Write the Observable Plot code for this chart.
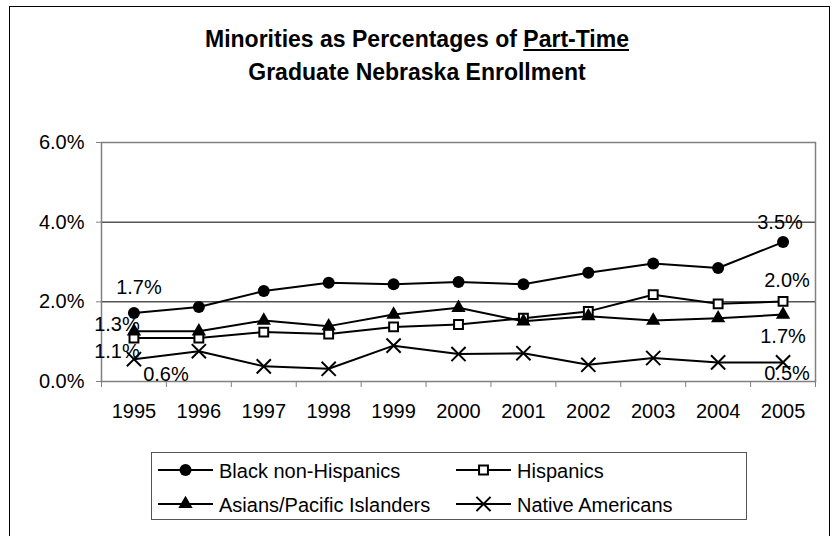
<!DOCTYPE html>
<html><head><meta charset="utf-8">
<script src="https://cdn.jsdelivr.net/npm/d3@7"></script>
<script src="https://cdn.jsdelivr.net/npm/@observablehq/plot@0.6"></script>
<style>
html,body{margin:0;padding:0;background:#fff;overflow:hidden;}
#wrap{position:relative;width:834px;height:536px;font-family:"Liberation Sans",Arial,sans-serif;color:#000;overflow:hidden;}
#border{position:absolute;left:9px;top:6px;width:821px;height:600px;border:1.5px solid #000;box-sizing:border-box;}
#title{position:absolute;left:0;width:834px;top:23px;text-align:center;font-weight:bold;font-size:23px;line-height:33px;}
#chart{position:absolute;left:0;top:0;}
#legend{position:absolute;left:151px;top:452px;}
</style>
</head><body>
<div id="wrap">
  <div id="border"></div>
  <div id="chart"></div>
  <div id="title">Minorities as Percentages of <u>Part-Time</u><br>Graduate Nebraska Enrollment</div>
  <div id="legend"></div>
</div>
<script>
const years = [1995,1996,1997,1998,1999,2000,2001,2002,2003,2004,2005];
const blackNonHispanics = [1.72,1.87,2.27,2.48,2.44,2.50,2.44,2.73,2.96,2.85,3.50];
const hispanics         = [1.09,1.09,1.24,1.19,1.37,1.43,1.59,1.76,2.18,1.95,2.01];
const asiansPacific     = [1.26,1.26,1.53,1.39,1.68,1.85,1.51,1.64,1.53,1.59,1.68];
const nativeAmericans   = [0.56,0.76,0.38,0.32,0.90,0.69,0.71,0.42,0.59,0.48,0.48];
const yTicks = [0,2,4,6];

const seriesNames = ["Black non-Hispanics","Hispanics","Asians/Pacific Islanders","Native Americans"];
const seriesValues = [blackNonHispanics, hispanics, asiansPacific, nativeAmericans];
const seriesStyle = [
  {symbol:"circle", r:6, fill:"#000", stroke:"none", strokeWidth:0},
  {symbol:"square", r:5, fill:"#fff", stroke:"#000", strokeWidth:2},
  {symbol:"triangle", r:5.3, fill:"#000", stroke:"none", strokeWidth:0},
  {symbol:"times", r:6.5, fill:"none", stroke:"#000", strokeWidth:2}
];

const data = seriesNames.flatMap((s, si) => years.map((y, i) => ({series: s, year: y, value: seriesValues[si][i]})));
const boundaries = [years[0] - 0.5, ...years.map(y => y + 0.5)];
const fmt = v => v.toFixed(1) + "%";

const marks = [
  Plot.ruleY([2,4], {stroke:"#000", strokeWidth:1}),
  Plot.frame({stroke:"#808080", strokeWidth:1.5}),
  Plot.axisY({ticks: yTicks, tickFormat: fmt, tickSize: 5, tickPadding: 12, label: null, fontSize: 20, stroke:"#808080", fill:"#000"}),
  Plot.axisX({ticks: boundaries, tickSize: 6, tickFormat: () => "", label: null, stroke:"#808080"}),
  Plot.axisX({ticks: years, tickSize: 0, tickPadding: 22, tickFormat: d => String(d), label: null, fontSize: 20, fill:"#000"})
];
seriesNames.forEach((s, si) => {
  const st = seriesStyle[si];
  marks.push(Plot.line(data, {filter: d => d.series === s, x: "year", y: "value", stroke: "#000", strokeWidth: 2}));
  marks.push(Plot.dot(data, {filter: d => d.series === s, x: "year", y: "value", symbol: st.symbol, r: st.r, fill: st.fill, stroke: st.stroke, strokeWidth: st.strokeWidth}));
});
const first = years[0], last = years[years.length - 1];
const lab = (s, yr, dx, dy) => Plot.text(data, {filter: d => d.series === s && d.year === yr, x: "year", y: "value", text: d => fmt(d.value), dx, dy, fontSize: 20, fill: "#000"});
marks.push(
  lab(seriesNames[0], first, 5, -25),
  lab(seriesNames[2], first, -17, -7),
  lab(seriesNames[1], first, -17, 14),
  lab(seriesNames[3], first, 32, 15),
  lab(seriesNames[0], last, -3, -19),
  lab(seriesNames[1], last, 4, -21),
  lab(seriesNames[2], last, 0, 22),
  lab(seriesNames[3], last, 4, 11)
);

const chart = Plot.plot({
  width: 834, height: 536,
  marginTop: 142, marginRight: 19, marginBottom: 155, marginLeft: 101,
  style: {fontFamily: '"Liberation Sans", Arial, sans-serif', fontSize: "20px", color: "#000", background: "transparent"},
  x: {type: "linear", domain: [years[0] - 0.5, years[years.length - 1] + 0.5], label: null},
  y: {domain: [0, 6], label: null},
  marks
});
document.getElementById("chart").appendChild(chart);

// legend
const lg = d3.select("#legend").append("svg").attr("width", 597).attr("height", 70)
  .style("font-family", '"Liberation Sans", Arial, sans-serif').style("font-size", "20px");
lg.append("rect").attr("x", 0.5).attr("y", 0.5).attr("width", 595).attr("height", 67).attr("fill", "#fff").attr("stroke", "#555");
const cols = [7, 305], rows = [18, 52];
seriesNames.forEach((s, si) => {
  const cx = cols[si % 2], cy = rows[Math.floor(si / 2)];
  const st = seriesStyle[si];
  const g = lg.append("g");
  g.append("line").attr("x1", cx).attr("x2", cx + 55).attr("y1", cy).attr("y2", cy).attr("stroke", "#000").attr("stroke-width", 2);
  const symType = {circle: d3.symbolCircle, square: d3.symbolSquare, triangle: d3.symbolTriangle, times: d3.symbolTimes}[st.symbol];
  g.append("path").attr("transform", `translate(${cx + 27.5},${cy})`)
    .attr("d", d3.symbol(symType, Math.PI * st.r * st.r)())
    .attr("fill", st.fill).attr("stroke", st.stroke).attr("stroke-width", st.strokeWidth);
  g.append("text").attr("x", cx + 61).attr("y", cy + 7.5).attr("fill", "#000").text(s);
});
</script>
</body></html>
